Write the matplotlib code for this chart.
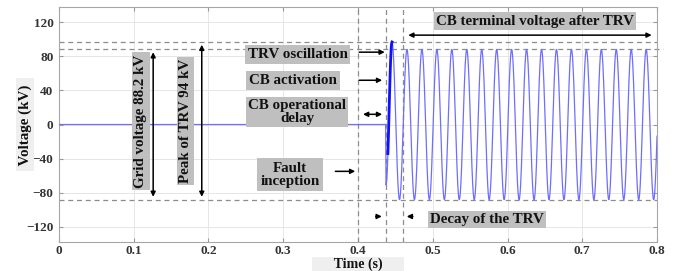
import numpy as np
import matplotlib
matplotlib.use("Agg")
import matplotlib.pyplot as plt

plt.rcParams['font.family'] = ['Liberation Serif', 'DejaVu Serif']
plt.rcParams['font.weight'] = 'bold'

# ---- data ----
pre_t = [0.0, 0.437]          # zero voltage before CB operation
pre_v = [0.0, 0.0]
ext_t = [0.4370, 0.4375, 0.4455, 0.4555, 0.4655, 0.4755, 0.4855, 0.4955,
         0.5055, 0.5155, 0.5255, 0.5355, 0.5455, 0.5555, 0.5655, 0.5755,
         0.5855, 0.5955, 0.6055, 0.6155, 0.6255, 0.6355, 0.6455, 0.6555,
         0.6655, 0.6755, 0.6855, 0.6955, 0.7055, 0.7155, 0.7255, 0.7355,
         0.7455, 0.7555, 0.7655, 0.7755, 0.7855, 0.7955]
ext_v = [0.0, -71.0, 97.0, -88.2, 88.2, -88.2, 88.2, -88.2,
         88.2, -88.2, 88.2, -88.2, 88.2, -88.2, 88.2, -88.2,
         88.2, -88.2, 88.2, -88.2, 88.2, -88.2, 88.2, -88.2,
         88.2, -88.2, 88.2, -88.2, 88.2, -88.2, 88.2, -88.2,
         88.2, -88.2, 88.2, -88.2, 88.2, -88.2]
end_t = 0.8
grid_voltage = 88.2
trv_peak = 97.0
t_fault = 0.4
t_cb = 0.437
t_decay = 0.4605
x_ticks = [0, 0.1, 0.2, 0.3, 0.4, 0.5, 0.6, 0.7, 0.8]
x_tick_labels = ['0', '0.1', '0.2', '0.3', '0.4', '0.5', '0.6', '0.7', '0.8']
y_ticks = [-120, -80, -40, 0, 40, 80, 120]

# ---- build waveform between extrema (half-cosine shape) ----
def segment(t0, v0, t1, v1, n=30):
    t = np.linspace(t0, t1, n)
    v = (v0 + v1) / 2 + (v0 - v1) / 2 * np.cos(np.pi * (t - t0) / (t1 - t0))
    return t, v

ts, vs = [np.array(pre_t)], [np.array(pre_v)]
ts.append(np.array([ext_t[0], ext_t[1]])); vs.append(np.array([ext_v[0], ext_v[1]]))
for i in range(1, len(ext_t) - 1):
    t, v = segment(ext_t[i], ext_v[i], ext_t[i + 1], ext_v[i + 1])
    ts.append(t); vs.append(v)
half = ext_t[-1] - ext_t[-2]
t = np.linspace(ext_t[-1], end_t, 20)
v = (ext_v[-1] + ext_v[-2]) / 2 + (ext_v[-1] - ext_v[-2]) / 2 * np.cos(np.pi * (t - ext_t[-1]) / half)
ts.append(t); vs.append(v)
T = np.concatenate(ts); V = np.concatenate(vs)

fig = plt.figure(figsize=(6.89, 2.71), dpi=100)
ax = fig.add_axes([0.0856, 0.107, 0.868, 0.867])

ax.plot(T, V, color='#6e6eff', lw=0.9, zorder=3)
tr, vr = segment(ext_t[1], ext_v[1], ext_t[2], ext_v[2])
m = vr > -40
ax.plot(tr[m], vr[m], color='#1010ff', lw=2.0, zorder=4)

ax.set_xlim(0, 0.8)
ax.set_ylim(-138, 138)
ax.set_xticks(x_ticks)
ax.set_xticklabels(x_tick_labels)
ax.set_yticks(y_ticks)
ax.grid(True, color='#e6e6e6', lw=0.7)
ax.set_axisbelow(True)
ax.tick_params(direction='in', top=True, right=True, length=3, color='#999999',
               labelsize=9.5, labelcolor='#333333')
ax.tick_params(axis='x', pad=2.5)
ax.tick_params(axis='y', pad=4)
for lab in ax.get_xticklabels() + ax.get_yticklabels():
    lab.set_fontweight('bold')
for s in ax.spines.values():
    s.set_color('#a6a6a6'); s.set_linewidth(0.8)

dash = dict(color='#8c8c8c', ls=(0, (4, 3)), lw=0.9, zorder=2)
ax.plot([0, 0.8], [trv_peak, trv_peak], **dash)
ax.plot([0, 0.808], [grid_voltage, grid_voltage], clip_on=False, **dash)
ax.plot([0, 0.8], [-grid_voltage, -grid_voltage], **dash)
for xv in (t_fault, t_cb, t_decay):
    ax.plot([xv, xv], [-138, 138], **dash)

ax.text(-0.057, 0.5, ' Voltage (kV) ', transform=ax.transAxes, rotation=90,
        fontsize=10.8, fontweight='bold', ha='center', va='center', color='#111111',
        bbox=dict(facecolor='#efefef', edgecolor='none', pad=1.5))
ax.text(0.5, -0.094, '      Time (s)      ', transform=ax.transAxes,
        fontsize=10, fontweight='bold', ha='center', va='center', color='#111111',
        bbox=dict(facecolor='#efefef', edgecolor='none', pad=0.5))

box = dict(facecolor='#bfbfbf', edgecolor='none', pad=1.5)
tk = dict(fontsize=10.8, fontweight='bold', color='#111111', ha='center', va='center', zorder=6)
arr1 = dict(arrowstyle='-|>', color='black', lw=1.1, mutation_scale=7)
arr2 = dict(arrowstyle='<|-|>', color='black', lw=1.1, mutation_scale=7)

ax.text(0.1097, 4, 'Grid voltage 88.2 kV', rotation=90, bbox=box, **tk)
ax.annotate('', xy=(0.126, grid_voltage), xytext=(0.126, -grid_voltage), arrowprops=arr2)
ax.text(0.169, 4, 'Peak of TRV 94 kV', rotation=90, bbox=box, **tk)
ax.annotate('', xy=(0.191, trv_peak), xytext=(0.191, -grid_voltage), arrowprops=arr2)

ax.text(0.319, 82, 'TRV oscillation', bbox=dict(facecolor='#bfbfbf', edgecolor='none', pad=2.0), **tk)
ax.annotate('', xy=(0.4395, 85), xytext=(0.398, 85), arrowprops=arr1)

ax.text(0.313, 52, 'CB activation', bbox=dict(facecolor='#bfbfbf', edgecolor='none', pad=2.0), **tk)
ax.annotate('', xy=(0.436, 52), xytext=(0.398, 52), arrowprops=arr1)

ax.text(0.3185, 15, 'CB operational\ndelay', linespacing=1.0,
        bbox=dict(facecolor='#bfbfbf', edgecolor='none', pad=1.5), **tk)
ax.annotate('', xy=(0.436, 12), xytext=(0.403, 12), arrowprops=arr2)

ax.text(0.309, -59, 'Fault\ninception', linespacing=1.0,
        bbox=dict(facecolor='#bfbfbf', edgecolor='none', pad=2.5), **tk)
ax.annotate('', xy=(0.4, -55), xytext=(0.366, -55), arrowprops=arr1)

ax.text(0.5726, -112, 'Decay of the TRV', bbox=box, **tk)
ax.annotate('', xy=(0.4355, -108), xytext=(0.420, -108), arrowprops=arr1)
ax.annotate('', xy=(0.4615, -108), xytext=(0.477, -108), arrowprops=arr1)

ax.text(0.637, 121.5, 'CB terminal voltage after TRV', bbox=box, **tk)
ax.annotate('', xy=(0.7965, 105), xytext=(0.4635, 105), arrowprops=arr2)

fig.savefig('out.png', dpi=100)
